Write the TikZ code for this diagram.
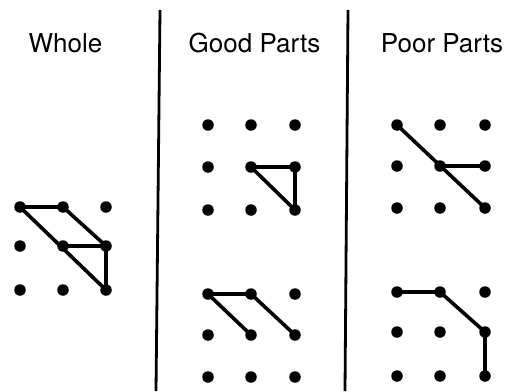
\documentclass[tikz,border=0pt]{standalone}
\usepackage{fontspec}
\setmainfont{TeX Gyre Heros}
\newcommand{\dotgrid}[7]{% name, x0,x1,x2, y0,y1,y2
  \foreach \i/\xx in {0/#2,1/#3,2/#4}{
    \foreach \j/\yy in {0/#5,1/#6,2/#7}{
      \node[dot] (#1-\i-\j) at (\xx,\yy) {};
    }
  }
}
\begin{document}
\begin{tikzpicture}[x=1pt,y=-1pt,
  dot/.style={circle,fill=black,inner sep=0pt,minimum size=11.5pt},
  seg/.style={line width=3.6pt,line cap=round},
  divider/.style={line width=2.8pt},
  title/.style={font=\fontsize{26}{31}\selectfont,anchor=base}]
\useasboundingbox (0,0) rectangle (516,391);
% titles
\node[title] (tw) at (65.5,52) {Whole};
\node[title] (tg) at (254.5,52) {Good Parts};
\node[title] (tp) at (442,52) {Poor Parts};
% dividers
\coordinate (d1t) at (160,10); \coordinate (d1b) at (156,391);
\coordinate (d2t) at (348,10); \coordinate (d2b) at (345,391);
\draw[divider] (d1t) -- (d1b);
\draw[divider] (d2t) -- (d2b);
% grids: name-i-j, i column, j row
\dotgrid{w}{20}{63}{106}{207}{246}{290}
\dotgrid{ga}{208}{251}{295}{125}{167}{210}
\dotgrid{gb}{208}{251}{295}{294}{335}{377}
\dotgrid{pa}{397}{440}{485}{125}{166}{208}
\dotgrid{pb}{397}{440}{485}{292}{332}{376}
% whole
\draw[seg] (w-0-0.center) -- (w-1-0.center);
\draw[seg] (w-0-0.center) -- (w-2-2.center);
\draw[seg] (w-1-0.center) -- (w-2-1.center);
\draw[seg] (w-1-1.center) -- (w-2-1.center);
\draw[seg] (w-2-1.center) -- (w-2-2.center);
% good top
\draw[seg] (ga-1-1.center) -- (ga-2-1.center);
\draw[seg] (ga-1-1.center) -- (ga-2-2.center);
\draw[seg] (ga-2-1.center) -- (ga-2-2.center);
% good bottom
\draw[seg] (gb-0-0.center) -- (gb-1-0.center);
\draw[seg] (gb-0-0.center) -- (gb-1-1.center);
\draw[seg] (gb-1-0.center) -- (gb-2-1.center);
% poor top
\draw[seg] (pa-0-0.center) -- (pa-2-2.center);
\draw[seg] (pa-1-1.center) -- (pa-2-1.center);
% poor bottom
\draw[seg] (pb-0-0.center) -- (pb-1-0.center);
\draw[seg] (pb-1-0.center) -- (pb-2-1.center);
\draw[seg] (pb-2-1.center) -- (pb-2-2.center);
\end{tikzpicture}
\end{document}
